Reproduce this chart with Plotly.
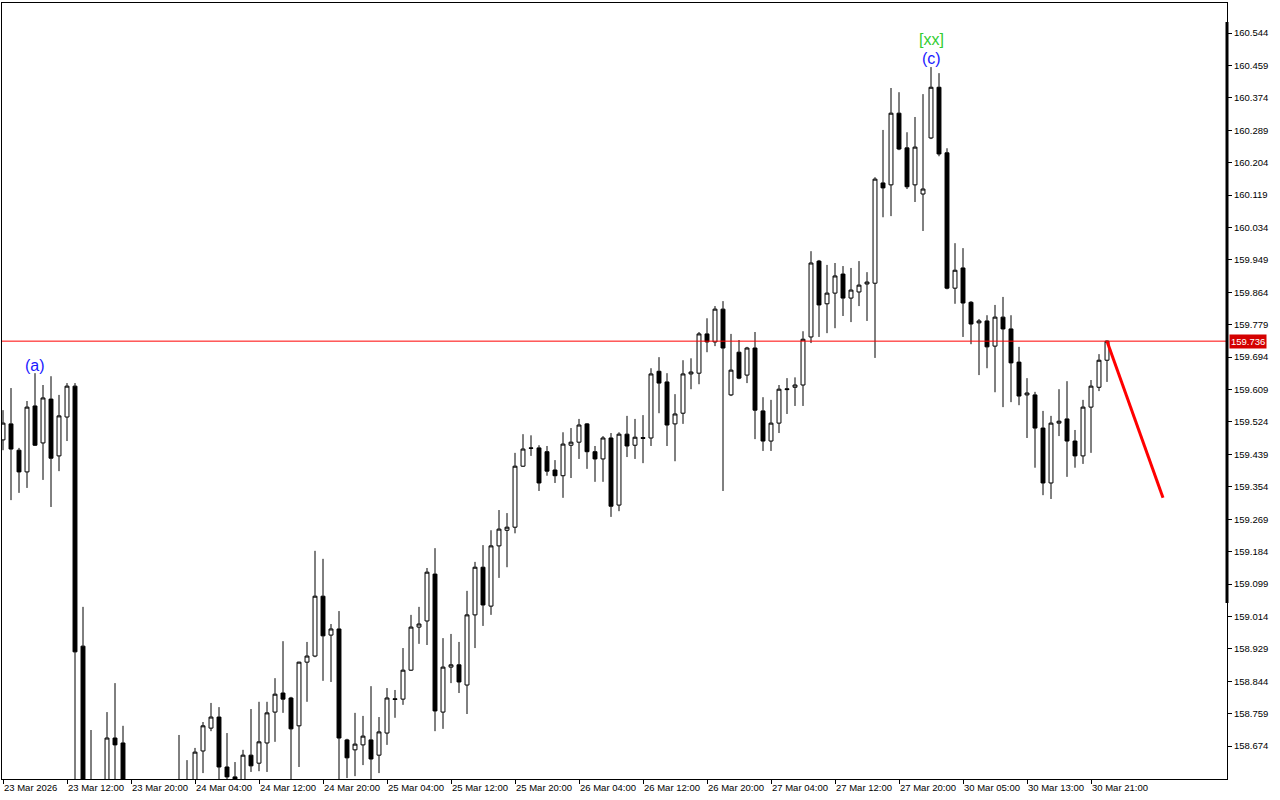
import plotly.graph_objects as go

# ---- data (hourly bars, USDJPY-style) ----
opens = [159.477,159.519,159.450,159.393,159.566,159.469,159.584,159.435,159.537,159.618,
         158.936,158.530,158.560,158.550,158.695,158.682,158.550,158.490,158.520,158.500,
         158.530,158.540,158.560,158.570,158.570,158.661,158.721,158.750,158.619,158.593,
         158.575,158.650,158.629,158.682,158.763,158.813,158.800,158.727,158.894,158.910,
         159.067,158.965,158.981,158.690,158.664,158.677,158.690,158.650,158.708,158.798,
         158.797,158.873,158.986,159.002,159.125,158.763,158.881,158.887,158.834,159.018,
         159.143,159.041,159.199,159.240,159.248,159.408,159.456,159.456,159.446,159.398,
         159.383,159.463,159.471,159.519,159.446,159.427,159.482,159.306,159.492,159.463,
         159.483,159.482,159.657,159.629,159.519,159.547,159.650,159.652,159.755,159.734,
         159.820,159.595,159.707,159.647,159.718,159.553,159.474,159.521,159.611,159.615,
         159.621,159.747,159.946,159.834,159.862,159.912,159.849,159.865,159.886,159.888,
         160.151,160.146,160.334,160.243,160.146,160.122,160.269,160.402,160.230,159.875,
         159.928,159.838,159.784,159.789,159.723,159.799,159.768,159.681,159.595,159.595,
         159.508,159.364,159.521,159.532,159.474,159.435,159.563,159.615,159.686]
highs = [159.555,159.613,159.456,159.579,159.652,159.621,159.644,159.595,159.626,159.626,
         159.039,158.716,158.580,158.763,158.839,158.727,158.570,158.540,158.560,158.550,
         158.570,158.580,158.703,158.637,158.669,158.737,158.787,158.776,158.708,158.632,
         158.664,158.771,158.790,158.790,158.852,158.949,158.803,158.895,158.947,159.186,
         159.165,158.994,159.028,158.693,158.761,158.753,158.831,158.750,158.826,158.821,
         158.931,159.018,159.039,159.141,159.193,158.957,158.968,158.947,159.081,159.157,
         159.201,159.240,159.293,159.285,159.443,159.492,159.489,159.463,159.461,159.424,
         159.497,159.508,159.532,159.521,159.461,159.487,159.495,159.497,159.540,159.532,
         159.542,159.665,159.694,159.652,159.597,159.686,159.691,159.760,159.796,159.828,
         159.841,159.755,159.739,159.721,159.760,159.589,159.582,159.621,159.639,159.641,
         159.762,159.972,159.949,159.936,159.941,159.933,159.928,159.946,159.917,160.166,
         160.290,160.400,160.389,160.284,160.324,160.384,160.455,160.439,160.242,159.993,
         159.980,159.841,159.794,159.804,159.831,159.852,159.804,159.721,159.639,159.603,
         159.553,159.540,159.610,159.631,159.503,159.582,159.634,159.702,159.738]
lows = [159.450,159.319,159.338,159.351,159.461,159.372,159.301,159.395,159.474,158.550,
        158.500,158.480,158.470,158.520,158.560,158.500,158.460,158.440,158.470,158.450,
        158.480,158.490,158.500,158.510,158.550,158.603,158.713,158.580,158.570,158.550,
        158.560,158.606,158.608,158.606,158.685,158.761,158.580,158.619,158.790,158.907,
        158.845,158.842,158.580,158.590,158.595,158.624,158.580,158.603,158.677,158.748,
        158.782,158.871,158.942,158.939,158.713,158.719,158.839,158.813,158.758,158.931,
        158.989,159.018,159.115,159.143,159.232,159.406,159.435,159.343,159.383,159.364,
        159.325,159.377,159.427,159.401,159.367,159.367,159.275,159.290,159.432,159.427,
        159.416,159.461,159.547,159.461,159.421,159.519,159.610,159.623,159.707,159.723,
        159.343,159.592,159.636,159.626,159.479,159.448,159.448,159.495,159.545,159.566,
        159.566,159.731,159.747,159.757,159.770,159.802,159.786,159.828,159.789,159.692,
        160.061,160.064,160.237,160.135,160.101,160.025,160.266,160.221,159.872,159.834,
        159.747,159.728,159.647,159.665,159.602,159.563,159.576,159.568,159.482,159.404,
        159.332,159.322,159.487,159.380,159.404,159.414,159.443,159.605,159.629]
closes = [159.521,159.453,159.393,159.563,159.463,159.587,159.429,159.540,159.618,158.921,
          158.530,158.560,158.510,158.695,158.677,158.550,158.490,158.520,158.500,158.530,
          158.540,158.560,158.570,158.550,158.658,158.727,158.750,158.619,158.593,158.570,
          158.650,158.622,158.685,158.761,158.810,158.797,158.719,158.894,158.910,159.067,
          158.963,158.981,158.695,158.643,158.679,158.700,158.640,158.711,158.800,158.796,
          158.873,158.986,158.994,159.130,158.766,158.881,158.887,158.842,159.018,159.143,
          159.044,159.199,159.243,159.248,159.408,159.453,159.455,159.364,159.395,159.383,
          159.466,159.471,159.516,159.446,159.427,159.482,159.303,159.492,159.461,159.484,
          159.481,159.650,159.626,159.516,159.545,159.650,159.655,159.755,159.734,159.820,
          159.718,159.660,159.639,159.718,159.555,159.474,159.521,159.610,159.609,159.621,
          159.741,159.941,159.831,159.862,159.907,159.849,159.870,159.883,159.891,160.161,
          160.138,160.334,160.240,160.141,160.245,160.135,160.402,160.227,159.875,159.922,
          159.836,159.781,159.789,159.721,159.799,159.768,159.679,159.592,159.600,159.508,
          159.364,159.521,159.526,159.474,159.435,159.563,159.618,159.686,159.736]

bar_index = list(range(len(opens)))

x_tick_bars = [0, 8, 16, 24, 32, 40, 48, 56, 64, 72, 80, 88, 96, 104, 112, 120, 128, 136]
x_tick_labels = ["23 Mar 2026", "23 Mar 12:00", "23 Mar 20:00", "24 Mar 04:00", "24 Mar 12:00",
                 "24 Mar 20:00", "25 Mar 04:00", "25 Mar 12:00", "25 Mar 20:00", "26 Mar 04:00",
                 "26 Mar 12:00", "26 Mar 20:00", "27 Mar 04:00", "27 Mar 12:00", "27 Mar 20:00",
                 "30 Mar 05:00", "30 Mar 13:00", "30 Mar 21:00"]

y_tick_vals = [158.674, 158.759, 158.844, 158.929, 159.014, 159.099, 159.184, 159.269,
               159.354, 159.439, 159.524, 159.609, 159.694, 159.779, 159.864, 159.949,
               160.034, 160.119, 160.204, 160.289, 160.374, 160.459, 160.544]
y_tick_labels = [f"{v:.3f}" for v in y_tick_vals]

current_price = 159.736
forecast_bars = [138, 145]
forecast_prices = [159.736, 159.325]

wave_labels = [
    {"text": "(a)", "bar": 4, "price": 159.671, "color": "#1a1aff"},
    {"text": "(c)", "bar": 116, "price": 160.478, "color": "#1a1aff"},
    {"text": "[xx]", "bar": 116, "price": 160.528, "color": "#32cd32"},
]

FONT = "Liberation Sans"

fig = go.Figure()
fig.add_trace(go.Candlestick(
    x=bar_index, open=opens, high=highs, low=lows, close=closes,
    increasing=dict(fillcolor="white", line=dict(color="black", width=1)),
    decreasing=dict(fillcolor="black", line=dict(color="black", width=1)),
    showlegend=False, hoverinfo="skip",
))
fig.add_trace(go.Scatter(
    x=forecast_bars, y=forecast_prices, mode="lines",
    line=dict(color="#ff0000", width=3), showlegend=False, hoverinfo="skip",
))

fig.add_shape(type="line", xref="paper", yref="y", x0=0, x1=1,
              y0=current_price, y1=current_price, line=dict(color="#ff0000", width=1))
# thick section of the price-scale border
fig.add_shape(type="line", xref="paper", yref="paper", x0=1, x1=1,
              y0=0.2268, y1=0.9755, line=dict(color="black", width=3))

for w in wave_labels:
    fig.add_annotation(x=w["bar"], y=w["price"], text=w["text"], showarrow=False,
                       font=dict(family=FONT, size=16, color=w["color"]))

fig.add_annotation(x=1, xref="paper", y=current_price, yref="y", text=f"{current_price:.3f}",
                   showarrow=False, xanchor="left", xshift=2, bgcolor="#d40000",
                   font=dict(family=FONT, size=9.5, color="white"), borderpad=1)

fig.update_layout(
    width=1280, height=800,
    margin=dict(l=2, r=53, t=3, b=21, autoexpand=False),
    paper_bgcolor="white", plot_bgcolor="white",
    font=dict(family=FONT, size=9.5, color="black"),
    hovermode=False,
    showlegend=False,
)
fig.update_xaxes(
    range=[-0.125, 153.0], rangeslider=dict(visible=False), automargin=False,
    tickmode="array", tickvals=x_tick_bars, ticktext=x_tick_labels, tickangle=0,
    ticks="outside", ticklen=4, tickcolor="black", ticklabelposition="outside right",
    showgrid=False, zeroline=False, showline=True, linecolor="black", linewidth=1, mirror=True,
    tickfont=dict(family=FONT, size=9.5, color="black"),
)
fig.update_yaxes(
    range=[158.5875, 160.623], side="right", automargin=False,
    tickmode="array", tickvals=y_tick_vals, ticktext=y_tick_labels,
    ticks="outside", ticklen=4, tickcolor="black",
    showgrid=False, zeroline=False, showline=True, linecolor="black", linewidth=1, mirror=True,
    tickfont=dict(family=FONT, size=9.5, color="black"),
)

fig.write_html("out.html", config={"displayModeBar": False},
               post_script="document.body.style.margin='0';")
